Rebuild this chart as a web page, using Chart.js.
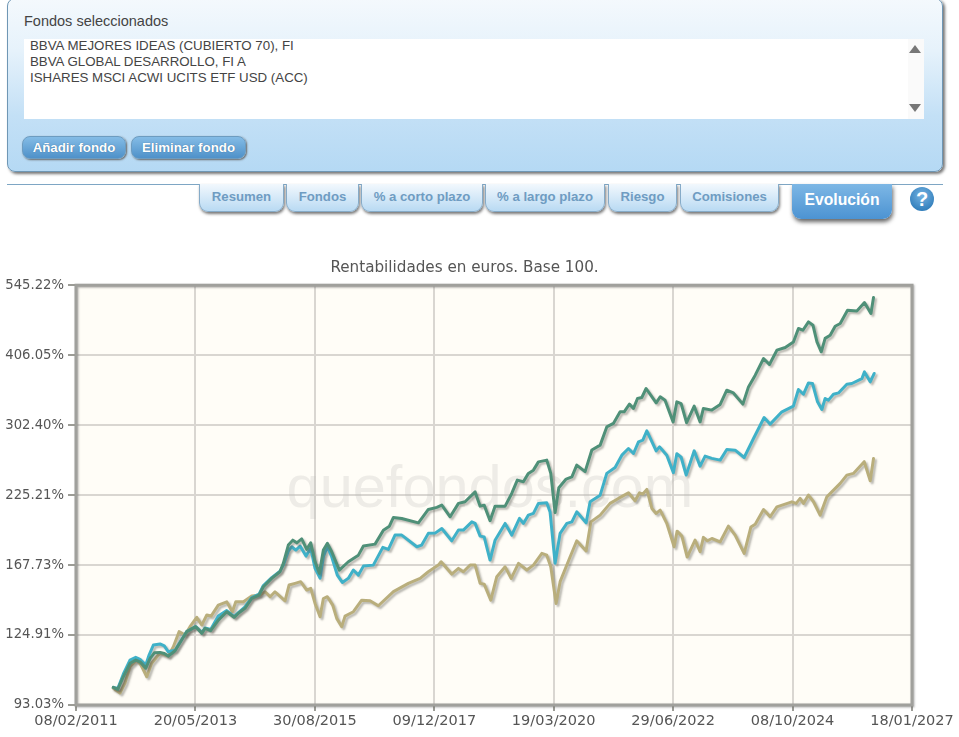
<!DOCTYPE html>
<html lang="es">
<head>
<meta charset="utf-8">
<title>Evolución</title>
<script src="https://cdn.jsdelivr.net/npm/chart.js@4/dist/chart.umd.min.js"></script>
<style>
  html, body { margin: 0; padding: 0; background: #fff; width: 959px; height: 737px; overflow: hidden; font-family: "Liberation Sans", Arial, sans-serif; }
  #panel { position: absolute; left: 7px; top: -2px; width: 934px; height: 172px; border: 1px solid #6f97b5; border-radius: 8px; background: linear-gradient(#f4f9fd, #e6f2fb 30%, #c3e0f6 68%, #b5d9f4); box-shadow: 2px 2px 3px #777; }
  #panelTitle { position: absolute; left: 24px; top: 13px; font-size: 14.5px; color: #444; }
  #list { position: absolute; left: 24px; top: 39px; width: 900px; height: 80px; background: #fff; color: #444; font-size: 13.3px; line-height: 16px; }
  #list div { margin-left: 6px; }
  #list div:first-child { margin-top: -1px; }
  #scroll { position: absolute; right: 0; top: 0; width: 16px; height: 80px; background: #fafafa; }
  .arrow { position: absolute; left: 1px; width: 0; height: 0; border-left: 6px solid transparent; border-right: 6px solid transparent; }
  .btn { position: absolute; top: 136px; height: 23px; line-height: 22px; text-align: center; color: #fff; font-weight: bold; font-size: 13.3px; border-radius: 8px; border: 1px solid #6d9cc0; box-sizing: border-box; background: linear-gradient(#84bce6, #4f91c9); box-shadow: 1px 1px 2px #666; text-shadow: 0 0 1px #35658c; }
  #rule { position: absolute; left: 7px; top: 184px; width: 936px; height: 1px; background: #7ea6c4; }
  .tab { position: absolute; top: 184px; height: 28px; line-height: 26px; text-align: center; box-sizing: border-box; color: #6f9cc2; font-weight: bold; font-size: 13.2px; border: 1px solid #86abc8; border-top: none; border-radius: 0 0 9px 9px; background: linear-gradient(#f2f8fd, #b9daf3); box-shadow: 1px 2px 3px #777; }
  #active { position: absolute; left: 792px; top: 184px; width: 100px; height: 35px; line-height: 31px; text-align: center; color: #fff; font-weight: bold; font-size: 15.7px; border-radius: 0 0 9px 9px; background: linear-gradient(#7db7e5, #4c93d2); box-shadow: 1px 3px 4px #666; }
  #help { position: absolute; left: 910px; top: 187px; width: 24px; height: 24px; line-height: 24px; border-radius: 50%; text-align: center; color: #fff; font-weight: bold; font-size: 20px; background: radial-gradient(circle at 50% 35%, #75b3e2, #1e6fb0); }
  #wrap { position: absolute; left: 0; top: 240px; width: 959px; height: 497px; }
</style>
</head>
<body>
<div id="panel"></div>
<div id="panelTitle">Fondos seleccionados</div>
<div id="list">
  <div>BBVA MEJORES IDEAS (CUBIERTO 70), FI</div>
  <div>BBVA GLOBAL DESARROLLO, FI A</div>
  <div>ISHARES MSCI ACWI UCITS ETF USD (ACC)</div>
  <div id="scroll">
    <span class="arrow" style="top:6px;margin:0;border-bottom:8px solid #777"></span>
    <span class="arrow" style="top:65px;margin:0;border-top:8px solid #777"></span>
  </div>
</div>
<div class="btn" style="left:22px;width:104px">Añadir fondo</div>
<div class="btn" style="left:131px;width:115px">Eliminar fondo</div>
<div id="rule"></div>
<div class="tab" style="left:199px;width:85px">Resumen</div>
<div class="tab" style="left:286px;width:73px">Fondos</div>
<div class="tab" style="left:361px;width:122px">% a corto plazo</div>
<div class="tab" style="left:485px;width:120px">% a largo plazo</div>
<div class="tab" style="left:608px;width:69px">Riesgo</div>
<div class="tab" style="left:680px;width:99px">Comisiones</div>
<div id="active">Evolución</div>
<div id="help">?</div>
<div id="wrap"><canvas id="chart" width="959" height="497"></canvas></div>
<script>
const tituloGrafico = 'Rentabilidades en euros. Base 100.';
const marcaAgua = 'quefondos.com';
const fechasEje = ['08/02/2011', '20/05/2013', '30/08/2015', '09/12/2017', '19/03/2020', '29/06/2022', '08/10/2024', '18/01/2027'];
const valoresEje = [93.03, 124.91, 167.73, 225.21, 302.40, 406.05, 545.22];

// dias desde 08/02/2011
const verdeDias = [260,291,330,376,416,446,486,516,546,585,615,643,690,736,771,834,876,899,938,991,1050,1101,1131,1177,1224,1275,1305,1363,1421,1444,1479,1510,1538,1572,1607,1635,1665,1695,1723,1751,1781,1834,1897,1967,2002,2083,2141,2183,2211,2269,2385,2454,2513,2548,2606,2664,2710,2780,2815,2843,2884,2919,2989,3035,3074,3116,3151,3186,3221,3279,3307,3337,3363,3414,3454,3488,3546,3593,3651,3697,3743,3790,3818,3855,3883,3911,3941,3971,4041,4069,4103,4159,4185,4215,4253,4306,4347,4370,4429,4487,4533,4579,4645,4684,4731,4789,4830,4882,4940,4997,5032,5063,5102,5133,5161,5191,5218,5253,5288,5323,5374,5439,5492,5537,5555];
const verdeValores = [100.2,99.4,104.8,110.9,112.4,111.6,108.6,113.2,115.9,116.1,115.6,114.3,116.9,122.3,126.7,129.4,125.8,128.5,127.2,133.0,137.8,134.6,136.9,139.8,145.8,147.8,153.1,158.6,163.1,168.9,182.5,186.3,184.2,187.3,179.2,184.2,170.1,162.0,178.7,183.8,177.4,164.2,170.1,174.9,181.7,183.2,194.3,197.6,205.0,204.1,200.4,212.0,213.9,215.9,205.6,217.5,219.0,228.3,215.0,215.9,202.2,215.0,215.0,226.8,239.9,238.3,246.8,250.2,259.1,261.0,246.8,209.2,232.4,241.0,243.2,255.5,248.6,272.3,278.0,300.2,304.6,319.9,319.9,330.4,324.5,338.4,339.8,352.9,332.2,340.7,336.0,306.6,333.6,331.1,305.5,327.6,306.6,324.5,322.2,330.0,350.4,346.4,330.4,355.3,373.3,400.4,390.5,414.7,419.4,429.4,454.4,451.1,467.2,460.7,429.4,411.9,435.9,441.7,458.8,464.0,490.7,489.3,507.0,484.0,518.0];

const azulDias = [260,291,330,376,416,446,486,509,539,585,615,643,690,736,771,834,876,899,938,991,1050,1101,1131,1177,1224,1275,1305,1363,1421,1444,1479,1503,1531,1561,1602,1635,1665,1700,1724,1751,1781,1820,1855,1897,1932,1967,2002,2071,2137,2176,2222,2269,2374,2408,2454,2501,2548,2617,2664,2698,2757,2780,2815,2843,2884,2919,2989,3035,3089,3116,3151,3186,3221,3279,3302,3337,3372,3419,3454,3488,3553,3581,3651,3697,3755,3802,3848,3883,3918,3948,3976,4041,4064,4115,4161,4185,4215,4250,4306,4347,4382,4429,4487,4533,4591,4654,4719,4793,4835,4917,4997,5032,5067,5102,5130,5165,5195,5218,5241,5276,5311,5369,5404,5474,5492,5532,5560];
const azulValores = [100.2,99.7,106.0,112.4,113.7,112.8,110.1,114.8,119.8,120.3,119.3,116.4,117.2,122.6,126.8,129.5,126.2,128.7,127.9,135.3,138.5,135.0,137.3,140.6,146.3,148.4,153.9,159.1,163.5,167.7,177.9,181.2,178.7,181.7,174.2,180.2,165.4,158.8,174.2,181.2,173.7,160.8,155.9,158.6,164.3,160.8,167.0,167.7,180.7,179.2,190.3,190.3,181.2,182.5,191.7,191.9,195.7,185.8,194.4,194.4,201.2,199.9,189.5,188.9,171.3,186.3,199.9,190.3,204.2,199.9,207.0,208.5,217.5,218.0,209.7,169.1,191.7,199.9,201.2,209.9,200.4,219.0,225.2,246.8,253.0,266.5,274.1,268.4,281.9,283.9,295.3,271.4,276.0,266.5,247.6,268.2,264.2,245.0,271.4,254.4,265.4,262.9,261.0,273.0,272.2,263.9,285.9,312.3,303.7,319.9,327.6,351.4,344.5,361.3,360.4,333.6,323.1,338.3,336.0,344.5,346.4,359.4,360.4,367.9,378.5,362.9,376.0];

const beigeDias = [258,307,341,376,423,453,493,527,585,643,678,718,759,794,841,876,911,941,991,1050,1089,1113,1166,1224,1282,1317,1352,1386,1456,1484,1526,1565,1607,1635,1665,1700,1723,1751,1788,1816,1851,1874,1932,1990,2048,2106,2211,2315,2397,2454,2524,2543,2617,2664,2698,2745,2780,2815,2843,2889,2931,2989,3031,3082,3140,3186,3245,3279,3307,3344,3372,3442,3488,3553,3586,3651,3720,3778,3848,3894,3925,3948,3976,4011,4041,4069,4115,4166,4187,4220,4257,4312,4347,4370,4398,4429,4487,4544,4591,4654,4701,4731,4789,4835,4882,4986,5016,5044,5067,5102,5137,5183,5230,5323,5369,5415,5490,5532,5555];
const beigeValores = [99.9,97.9,102.0,109.3,112.4,110.1,104.8,110.9,115.8,114.3,118.9,126.7,124.9,129.4,134.6,130.3,135.9,135.3,141.7,143.7,137.8,143.7,143.7,147.2,147.8,149.9,146.8,149.9,144.3,154.2,155.3,156.4,151.0,152.1,142.7,134.9,145.7,146.8,141.7,134.0,129.4,135.3,137.8,144.7,144.3,141.3,150.0,155.3,158.6,163.1,167.7,170.1,161.5,165.4,163.1,167.7,167.7,155.3,154.8,144.7,159.7,166.5,158.6,168.9,164.3,167.7,176.2,174.9,166.5,142.7,156.4,173.7,185.8,178.0,201.2,207.0,217.5,222.1,227.4,219.9,227.4,226.2,230.7,212.9,208.5,211.4,199.9,181.2,193.5,189.5,173.5,186.3,177.4,188.5,185.8,187.6,185.0,197.6,190.3,176.2,197.0,199.3,212.0,205.6,214.4,218.9,217.5,222.1,217.5,225.2,219.0,207.0,223.6,236.6,245.0,246.8,259.3,239.2,262.8];

function aDias(fecha) {
  const p = fecha.split('/');
  return Date.UTC(+p[2], +p[1] - 1, +p[0]) / 86400000;
}
const origen = aDias(fechasEje[0]);
const diasEje = fechasEje.map(f => aDias(f) - origen);

function puntos(dias, valores) {
  return dias.map((d, i) => ({ x: d, y: valores[i] }));
}

const fondoPlugin = {
  id: 'fondo',
  beforeDraw(chart) {
    const a = chart.chartArea, ctx = chart.ctx;
    ctx.save();
    ctx.fillStyle = '#fffdf7';
    ctx.fillRect(a.left, a.top, a.width, a.height);
    ctx.restore();
  },
  beforeDatasetsDraw(chart) {
    const ctx = chart.ctx;
    ctx.save();
    ctx.font = '59.5px "Liberation Sans", Arial, sans-serif';
    ctx.textAlign = 'center';
    ctx.fillStyle = 'rgba(185,182,178,0.24)';
    ctx.fillText(marcaAgua, 490, 267);
    ctx.restore();
    ctx.save();
    ctx.shadowColor = 'rgba(90,90,80,0.42)';
    ctx.shadowOffsetX = 2;
    ctx.shadowOffsetY = 2;
    ctx.shadowBlur = 2;
  },
  afterDatasetsDraw(chart) {
    const a = chart.chartArea, ctx = chart.ctx;
    ctx.restore();
    ctx.save();
    ctx.strokeStyle = '#a0a09c';
    ctx.lineWidth = 3;
    ctx.shadowColor = 'rgba(90,90,90,0.45)';
    ctx.shadowOffsetX = 1;
    ctx.shadowOffsetY = 1;
    ctx.shadowBlur = 2;
    ctx.strokeRect(a.left, a.top, a.width, a.height);
    ctx.restore();
  }
};

new Chart(document.getElementById('chart'), {
  type: 'line',
  plugins: [fondoPlugin],
  data: {
    datasets: [
      { label: 'ISHARES MSCI ACWI UCITS ETF USD (ACC)', data: puntos(verdeDias, verdeValores), borderColor: '#4f9078', order: 1 },
      { label: 'BBVA GLOBAL DESARROLLO, FI A', data: puntos(azulDias, azulValores), borderColor: '#3fb1c8', order: 2 },
      { label: 'BBVA MEJORES IDEAS (CUBIERTO 70), FI', data: puntos(beigeDias, beigeValores), borderColor: '#b9ae7c', order: 3 }
    ]
  },
  options: {
    responsive: false,
    animation: false,
    devicePixelRatio: 1,
    // el eje vacio de la derecha deja el titulo centrado como en el original
    layout: { padding: { right: 30 } },
    elements: {
      point: { radius: 0 },
      line: { borderWidth: 3, tension: 0, borderJoinStyle: 'round', borderCapStyle: 'round', fill: false }
    },
    plugins: {
      legend: { display: false },
      tooltip: { enabled: false },
      title: {
        display: true,
        text: tituloGrafico,
        color: '#555',
        font: { family: '"DejaVu Sans"', size: 15.2, weight: 'normal' },
        padding: { top: 19, bottom: 8 }
      }
    },
    scales: {
      x: {
        type: 'linear',
        min: diasEje[0],
        max: diasEje[diasEje.length - 1],
        afterBuildTicks(s) { s.ticks = diasEje.map(v => ({ value: v })); },
        afterFit(s) { s.height = 32; },
        ticks: {
          autoSkip: false,
          maxRotation: 0,
          padding: 2,
          color: '#555',
          font: { family: '"DejaVu Sans"', size: 14.5 },
          callback: (v, i) => fechasEje[i]
        },
        grid: { color: '#d9d6d1', lineWidth: 2, tickColor: '#9c9c96', tickLength: 6, drawTicks: true },
        border: { display: false }
      },
      y: {
        type: 'logarithmic',
        min: valoresEje[0],
        max: valoresEje[valoresEje.length - 1],
        afterBuildTicks(s) { s.ticks = valoresEje.map(v => ({ value: v })); },
        afterFit(s) { s.width = 76; },
        ticks: {
          autoSkip: false,
          padding: 4,
          color: '#555',
          font: { family: '"DejaVu Sans"', size: 13.2 },
          callback: (v, i) => valoresEje[i].toFixed(2) + '%'
        },
        grid: { color: '#d9d6d1', lineWidth: 2, tickColor: '#9c9c96', tickLength: 8 },
        border: { display: false }
      },
      derecha: {
        type: 'linear',
        position: 'right',
        afterFit(s) { s.width = 17; },
        ticks: { display: false },
        grid: { display: false },
        border: { display: false }
      }
    }
  }
});
</script>
</body>
</html>
